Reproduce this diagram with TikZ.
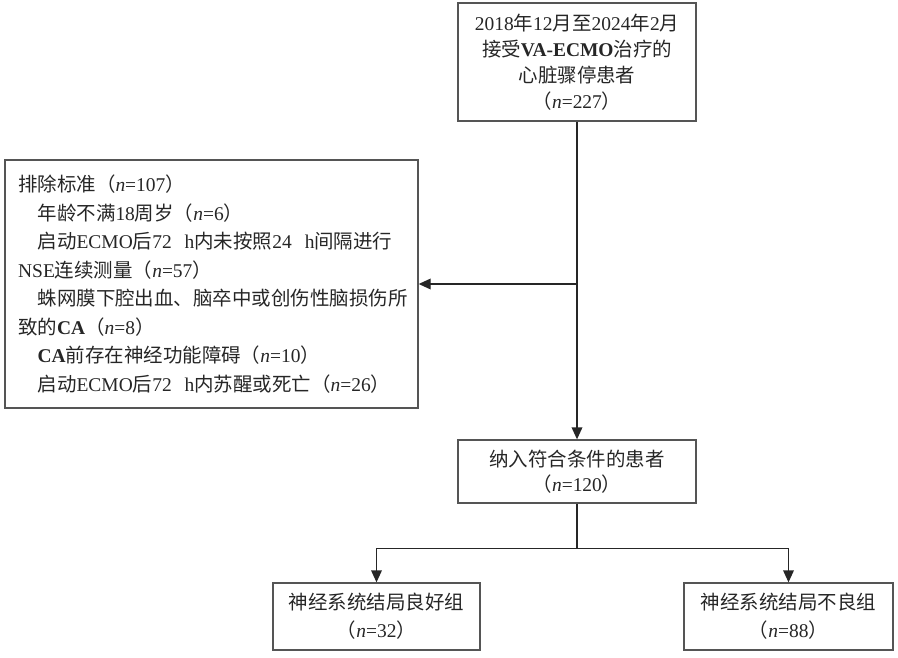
\documentclass[tikz,border=0pt]{standalone}
\usepackage{fontspec}
\setmainfont{Liberation Serif}
\newfontfamily\cjk{Noto Sans CJK SC}
\usetikzlibrary{arrows.meta}

\providecommand*{\zh}{}
\providecommand*{\nn}{}
\renewcommand*{\zh}[1]{{\cjk #1}}
\renewcommand*{\nn}[1]{\zh{（}\textit{n}=#1\zh{）}}

\definecolor{boxgray}{HTML}{555555}

\tikzset{
  box/.style={draw=boxgray, line width=1pt, inner sep=0pt, align=center,
    text=black!85, font=\fontsize{14.6}{20}\selectfont},
  link/.style={draw=black!85, line width=1pt},
  flow/.style={link, -{Triangle[length=9pt,width=8pt]}},
}

\begin{document}
\begin{tikzpicture}[x=0.75pt,y=-0.75pt]
  \useasboundingbox (0,0) rectangle (898,657);

  \node [box, minimum width=178.5pt, minimum height=88.5pt,
    font=\fontsize{14.6}{19.5}\selectfont] (source) at (577,62)
    {2018\zh{年}12\zh{月至}2024\zh{年}2\zh{月}\\
     \zh{接受}\textbf{VA-ECMO}\zh{治疗的}\\
     \zh{心脏骤停患者}\\
     \nn{227}};

  \node [box, minimum width=309.75pt, minimum height=186pt, text width=290pt,
    align=left, font=\fontsize{14.6}{21.4}\selectfont] (exclude) at (211.5,284)
    {\zh{排除标准}\nn{107}\\
     \hspace*{1em}\zh{年龄不满}18\zh{周岁}\nn{6}\\
     \hspace*{1em}\zh{启动}ECMO\zh{后}72~ h\zh{内未按照}24~ h\zh{间隔进行}\\
     NSE\zh{连续测量}\nn{57}\\
     \hspace*{1em}\zh{蛛网膜下腔出血、脑卒中或创伤性脑损伤所}\\
     \zh{致的}\textbf{CA}\nn{8}\\
     \hspace*{1em}\textbf{CA}\zh{前存在神经功能障碍}\nn{10}\\
     \hspace*{1em}\zh{启动}ECMO\zh{后}72~ h\zh{内苏醒或死亡}\nn{26}};

  \node [box, minimum width=178.5pt, minimum height=47.25pt,
    font=\fontsize{14.6}{18.5}\selectfont] (included) at (577,471.5)
    {\zh{纳入符合条件的患者}\\ \nn{120}};

  \node [box, minimum width=155.25pt, minimum height=50.25pt,
    font=\fontsize{14.6}{21}\selectfont] (good) at (376.5,616.5)
    {\zh{神经系统结局良好组}\\ \nn{32}};
  \node [box, minimum width=156.75pt, minimum height=50.25pt,
    font=\fontsize{14.6}{21}\selectfont] (poor) at (788.5,616.5)
    {\zh{神经系统结局不良组}\\ \nn{88}};

  % trunk and exclusion branch
  \draw [flow] (source) -- (included);
  \draw [flow] (source.south |- exclude.east) -- (exclude.east);

  % split into outcome groups
  \draw [link] (included.south) -- ++(0,45) coordinate (fork);
  \foreach \grp in {good,poor} {
    \draw [flow] (fork) -| (\grp.north);
  }
\end{tikzpicture}
\end{document}
